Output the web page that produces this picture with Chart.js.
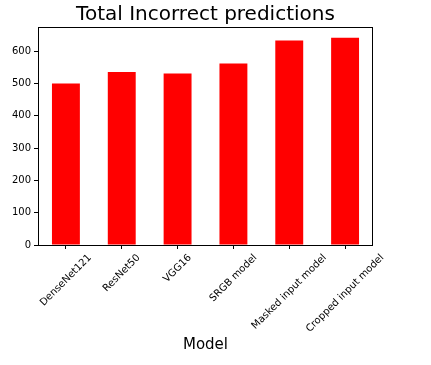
<!DOCTYPE html>
<html>
<head>
<meta charset="utf-8">
<script src="https://cdn.jsdelivr.net/npm/chart.js@4"></script>
<style>
  html, body { margin: 0; padding: 0; background: #ffffff; }
  #wrap { width: 431px; height: 365px; }
</style>
</head>
<body>
<div id="wrap"><canvas id="c" width="431" height="365"></canvas></div>
<script>
const categories = ["DenseNet121", "ResNet50", "VGG16", "SRGB model", "Masked input model", "Cropped input model"];
const incorrect = [500, 536, 531, 562, 633, 642];
const yTicks = [0, 100, 200, 300, 400, 500, 600];
const yMax = 675;

const FONT = "'DejaVu Sans', sans-serif";

const frameAndLabels = {
  id: 'frameAndLabels',
  beforeDraw(chart) {
    const ctx = chart.ctx;
    ctx.save();
    ctx.fillStyle = '#ffffff';
    ctx.fillRect(0, 0, chart.width, chart.height);
    ctx.restore();
  },
  afterDraw(chart) {
    const ctx = chart.ctx;
    const a = chart.chartArea;
    ctx.save();
    ctx.strokeStyle = '#000000';
    ctx.lineWidth = 1;
    ctx.strokeRect(Math.round(a.left) + 0.5, Math.round(a.top) + 0.5,
                   Math.round(a.right - a.left) - 1, Math.round(a.bottom - a.top));
    // rotated x tick labels, centered on tick (matplotlib style)
    const xs = chart.scales.x;
    ctx.font = "10px " + FONT;
    ctx.fillStyle = '#000000';
    ctx.textAlign = 'center';
    ctx.textBaseline = 'middle';
    const s = Math.SQRT1_2;
    categories.forEach((lab, i) => {
      const x = xs.getPixelForTick(i);
      const w = ctx.measureText(lab).width;
      const h = 11.6;
      const y0 = a.bottom + 7;
      const cy = y0 + (w + h) * s / 2;
      ctx.save();
      ctx.translate(x, cy);
      ctx.rotate(-Math.PI / 4);
      ctx.fillText(lab, 0, 0);
      ctx.restore();
    });
    ctx.restore();
  }
};

new Chart(document.getElementById('c'), {
  type: 'bar',
  data: {
    labels: categories,
    datasets: [{
      data: incorrect,
      backgroundColor: '#ff0000',
      borderWidth: 0,
      barPercentage: 0.5,
      categoryPercentage: 1.0
    }]
  },
  options: {
    responsive: false,
    animation: false,
    devicePixelRatio: 1,
    layout: { padding: { left: 0, right: 58, top: 0, bottom: 0 } },
    plugins: {
      legend: { display: false },
      tooltip: { enabled: false },
      title: {
        display: true,
        text: 'Total Incorrect predictions',
        fullSize: false,
        color: '#000000',
        font: { family: FONT, size: 20, weight: 'normal', lineHeight: 1.2 },
        padding: { top: 3, bottom: 0 }
      }
    },
    scales: {
      x: {
        offset: true,
        border: { display: false },
        grid: { display: true, drawOnChartArea: false, drawTicks: true, tickLength: 4, offset: false, color: '#000000', lineWidth: 1 },
        ticks: { display: false, autoSkip: false },
        title: {
          display: true,
          text: 'Model',
          color: '#000000',
          font: { family: FONT, size: 15, lineHeight: 1.2 },
          padding: { top: 0, bottom: 11 }
        },
        afterFit(scale) { scale.height = 120; }
      },
      y: {
        min: 0,
        max: yMax,
        border: { display: false },
        grid: { display: true, drawOnChartArea: false, drawTicks: true, tickLength: 4, color: '#000000', lineWidth: 1 },
        ticks: {
          color: '#000000',
          font: { family: FONT, size: 10 },
          padding: 3
        },
        afterBuildTicks(scale) { scale.ticks = yTicks.map(v => ({ value: v })); },
        afterFit(scale) { scale.width = 38; }
      }
    }
  },
  plugins: [frameAndLabels]
});
</script>
</body>
</html>
